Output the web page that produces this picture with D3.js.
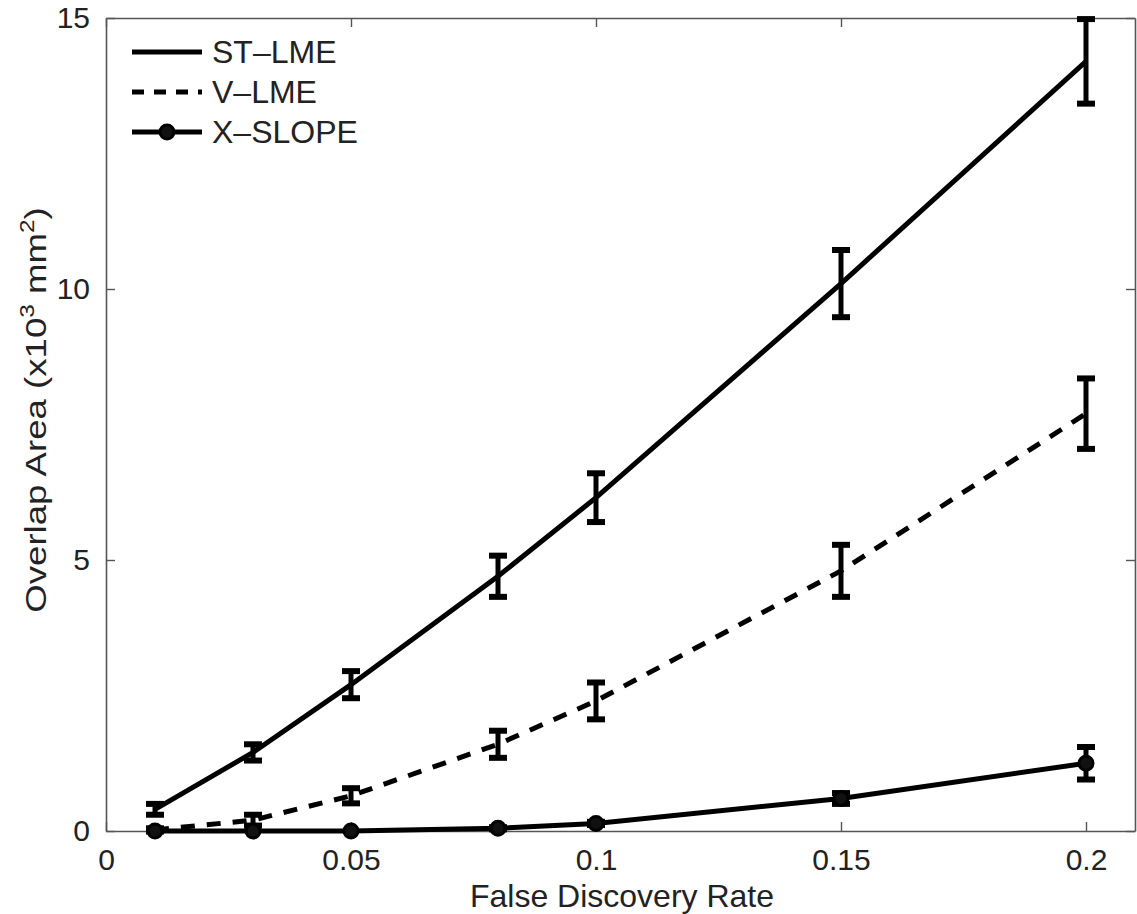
<!DOCTYPE html>
<html>
<head>
<meta charset="utf-8">
<script src="https://cdn.jsdelivr.net/npm/d3@7"></script>
<style>
  body { margin: 0; background: #fff; }
  text { font-family: "Liberation Sans", Arial, sans-serif; fill: #222; }
</style>
</head>
<body>
<div class="container"></div>
<script>
// false discovery rate (x positions of the points)
const fdr = [0.01, 0.03, 0.05, 0.08, 0.1, 0.15, 0.2];

// overlap area in 10^3 mm^2, with error bar half-lengths
const stMean = [0.4, 1.45, 2.7, 4.7, 6.15, 10.1, 14.2];
const stErr = [0.1, 0.15, 0.25, 0.38, 0.45, 0.62, 0.78];
const vMean = [0.02, 0.2, 0.65, 1.6, 2.4, 4.8, 7.7];
const vErr = [0.03, 0.1, 0.14, 0.25, 0.34, 0.48, 0.65];
const xMean = [0, 0, 0, 0.05, 0.14, 0.6, 1.25];
const xErr = [0, 0, 0, 0.02, 0.03, 0.1, 0.3];

const xTicks = [0, 0.05, 0.1, 0.15, 0.2];
const xTickLabels = ['0', '0.05', '0.1', '0.15', '0.2'];
const yTicks = [0, 5, 10, 15];

const w = 1137;
const h = 914;
const margin = { top: 18, right: 2, bottom: 83, left: 106 };

const svg = d3.select('.container')
    .append('svg')
    .attr('width', w)
    .attr('height', h);

const x = d3.scaleLinear().domain([0, 0.21]).range([margin.left, w - margin.right]);
const y = d3.scaleLinear().domain([0, 15]).range([h - margin.bottom, margin.top]);

const axisColor = '#555';

// box + ticks
const tickLen = 9;
const gx = svg.append('g').attr('transform', `translate(0,${h - margin.bottom})`)
    .call(d3.axisBottom(x).tickValues(xTicks).tickFormat((d, i) => xTickLabels[i]).tickSizeInner(-tickLen).tickSizeOuter(0).tickPadding(18));
const gx2 = svg.append('g').attr('transform', `translate(0,${margin.top})`)
    .call(d3.axisTop(x).tickValues(xTicks).tickFormat('').tickSizeInner(-tickLen).tickSizeOuter(0));
const gy = svg.append('g').attr('transform', `translate(${margin.left},0)`)
    .call(d3.axisLeft(y).tickValues(yTicks).tickSizeInner(-tickLen).tickSizeOuter(0).tickPadding(16));
const gy2 = svg.append('g').attr('transform', `translate(${w - margin.right},0)`)
    .call(d3.axisRight(y).tickValues(yTicks).tickFormat('').tickSizeInner(-tickLen).tickSizeOuter(0));

[gx, gx2, gy, gy2].forEach(g => {
    g.selectAll('path').attr('stroke', axisColor).attr('stroke-width', 1.6);
    g.selectAll('line').attr('stroke', axisColor).attr('stroke-width', 1.4);
    g.selectAll('text').style('font-size', '30px').attr('fill', '#222')
        .style('font-family', '"Liberation Sans", Arial, sans-serif');
});
gx.selectAll('text').attr('dy', '0.71em');

// axis labels
svg.append('text')
    .attr('x', 622)
    .attr('y', 907)
    .attr('text-anchor', 'middle')
    .style('font-size', '32px')
    .text('False Discovery Rate');

const yl = svg.append('text')
    .attr('transform', `translate(46,410) rotate(-90) scale(1.22,1)`)
    .attr('text-anchor', 'middle')
    .style('font-size', '30px');
yl.append('tspan').text('Overlap Area (x10');
yl.append('tspan').attr('dy', -12).style('font-size', '20px').text('3');
yl.append('tspan').attr('dy', 12).text(' mm');
yl.append('tspan').attr('dy', -12).style('font-size', '20px').text('2');
yl.append('tspan').attr('dy', 12).text(')');

const series = [
    { name: 'ST-LME', mean: stMean, err: stErr, dash: null, marker: false },
    { name: 'V-LME', mean: vMean, err: vErr, dash: '14,12', marker: false },
    { name: 'X-SLOPE', mean: xMean, err: xErr, dash: null, marker: true }
];

const line = d3.line().x(d => x(d[0])).y(d => y(d[1]));
const capW = 9;

series.forEach(s => {
    const pts = fdr.map((f, i) => [f, s.mean[i], s.err[i]]);
    svg.append('path')
        .attr('d', line(pts))
        .attr('fill', 'none')
        .attr('stroke', '#000')
        .attr('stroke-width', 5)
        .attr('stroke-dasharray', s.dash);

    const eb = svg.append('g').selectAll('g').data(pts.filter(d => d[2] > 0)).join('g');
    eb.append('line')
        .attr('x1', d => x(d[0])).attr('x2', d => x(d[0]))
        .attr('y1', d => y(d[1] - d[2])).attr('y2', d => y(d[1] + d[2]))
        .attr('stroke', '#000').attr('stroke-width', 5);
    eb.append('line')
        .attr('x1', d => x(d[0]) - capW).attr('x2', d => x(d[0]) + capW)
        .attr('y1', d => y(d[1] - d[2])).attr('y2', d => y(d[1] - d[2]))
        .attr('stroke', '#000').attr('stroke-width', 6);
    eb.append('line')
        .attr('x1', d => x(d[0]) - capW).attr('x2', d => x(d[0]) + capW)
        .attr('y1', d => y(d[1] + d[2])).attr('y2', d => y(d[1] + d[2]))
        .attr('stroke', '#000').attr('stroke-width', 6);

    if (s.marker) {
        svg.append('g').selectAll('circle').data(pts).join('circle')
            .attr('cx', d => x(d[0])).attr('cy', d => y(d[1]))
            .attr('r', 7)
            .attr('fill', '#111')
            .attr('stroke', '#000')
            .attr('stroke-width', 3);
    }
});

// legend
const legend = svg.append('g');
series.forEach((s, i) => {
    const ly = 52 + i * 40;
    legend.append('line')
        .attr('x1', 132).attr('x2', 202)
        .attr('y1', ly).attr('y2', ly)
        .attr('stroke', '#000').attr('stroke-width', 5)
        .attr('stroke-dasharray', s.dash ? '12,10' : null);
    if (s.marker) {
        legend.append('circle').attr('cx', 167).attr('cy', ly).attr('r', 7)
            .attr('fill', '#111').attr('stroke', '#000').attr('stroke-width', 3);
    }
    legend.append('text')
        .attr('x', 212).attr('y', ly + 11)
        .style('font-size', '32px')
        .text(s.name.replace('-', '\u2013'));
});
</script>
</body>
</html>
